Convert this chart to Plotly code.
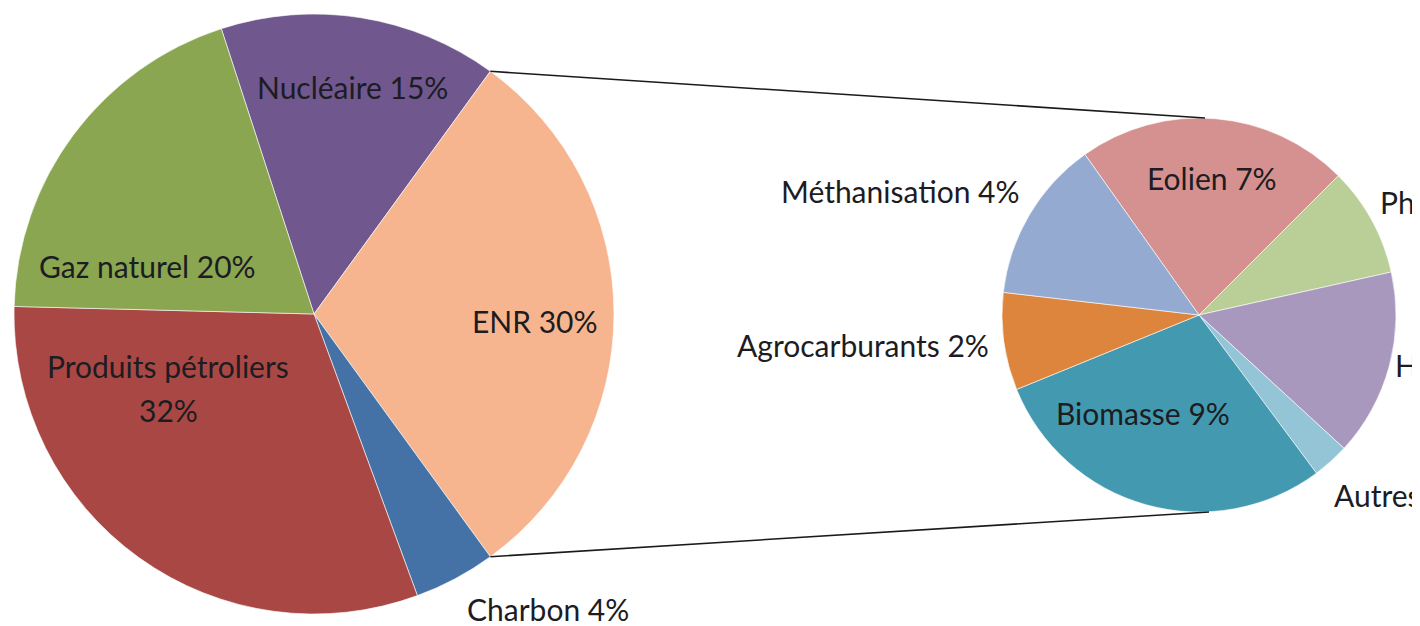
import math
import plotly.graph_objects as go

# the page body has an 8px margin, so the figure fills the visible window area
OFF = 8
W, H = 1420 - OFF, 626 - OFF

# ---- data ----
main_names = ["Nucléaire", "ENR", "Charbon", "Produits pétroliers", "Gaz naturel"]
main_values = [15.0, 30.0, 4.4, 31.0, 19.6]          # slice sizes (from angles)
main_pct = [15, 30, 4, 32, 20]                        # percentages printed on labels
main_colors = ["#70588F", "#F7B58F", "#4471A6", "#A94745", "#8AA651"]

sub_names = ["Eolien", "Photovoltaïque", "Hydraulique", "Autres",
             "Biomasse", "Agrocarburants", "Méthanisation"]
sub_values = [6.7, 2.7, 4.6, 0.9, 8.7, 2.4, 4.0]      # share of total (sum = ENR)
sub_pct = [7, 3, 5, 1, 9, 2, 4]
sub_colors = ["#D4918F", "#B9CF97", "#A898BE", "#93C5D7", "#4399AF", "#DE853D", "#94AAD0"]

# ---- layout geometry (window pixels) ----
main_c, main_r = (314, 314), 300
sub_c, sub_r = (1199, 315), 197
main_rot = -18.0
sub_rot = -35.4


def px(x, y):
    return (x - OFF) / W, 1 - (y - OFF) / H


def dom(c, r):
    x0, y1 = px(c[0] - r, c[1] - r)
    x1, y0 = px(c[0] + r, c[1] + r)
    return dict(x=[x0, x1], y=[y0, y1])


fig = go.Figure()
fig.add_trace(go.Pie(
    labels=main_names, values=main_values, sort=False, direction="clockwise",
    rotation=main_rot, marker=dict(colors=main_colors, line=dict(color="white", width=0.6)),
    textinfo="none", hoverinfo="label+percent", domain=dom(main_c, main_r), showlegend=False))
fig.add_trace(go.Pie(
    labels=sub_names, values=sub_values, sort=False, direction="clockwise",
    rotation=sub_rot, marker=dict(colors=sub_colors, line=dict(color="white", width=0.6)),
    textinfo="none", hoverinfo="label+value", domain=dom(sub_c, sub_r), showlegend=False))

# connector lines: from edges of the ENR slice to top / bottom of the secondary pie
tot = sum(main_values)
start = main_rot + 360 * main_values[0] / tot
end = start + 360 * main_values[1] / tot


def pt(c, r, ang):
    a = math.radians(ang)
    return c[0] + r * math.sin(a), c[1] - r * math.cos(a)


p1 = pt(main_c, main_r, start)
p2 = pt(main_c, main_r, end)
q1 = (sub_c[0] + 6, sub_c[1] - sub_r)
q2 = (sub_c[0] + 10, sub_c[1] + sub_r)
for a, b in [(p1, q1), (p2, q2)]:
    xa, ya = px(*a)
    xb, yb = px(*b)
    fig.add_shape(type="line", xref="paper", yref="paper",
                  x0=xa, y0=ya, x1=xb, y1=yb,
                  line=dict(color="#1a1a1a", width=1.6))

FONT = dict(family="Lato, 'Open Sans', sans-serif", size=30, color="#1c1c22")


def ann(text, x, y, xanchor="center"):
    xp, yp = px(x, y - 2)
    fig.add_annotation(text=text, x=xp, y=yp, xref="paper", yref="paper",
                       showarrow=False, xanchor=xanchor, yanchor="middle", font=FONT)


# label positions (x = centre or left edge, y = centre of capitals)
main_pos = [(352, 89, "center"), (535, 323, "center"), (548, 611, "center"),
            (168, 368, "center"), (147, 268, "center")]
for n, p, (x, y, xa) in zip(main_names, main_pct, main_pos):
    if n == "Produits pétroliers":
        ann(n, x, y, xa)
        ann(f"{p}%", x, y + 44, xa)
    else:
        ann(f"{n} {p}%", x, y, xa)

sub_pos = [(1212, 180, "center"), (1378, 204, "left"), (1393, 367, "left"),
           (1332, 497, "left"), (1143, 415, "center"), (863, 347, "center"),
           (900, 193, "center")]
for n, p, (x, y, xa) in zip(sub_names, sub_pct, sub_pos):
    ann(f"{n} {p}%", x, y, xa)

fig.update_layout(width=W, height=H, margin=dict(l=0, r=0, t=0, b=0),
                  paper_bgcolor="white", plot_bgcolor="white")
fig.write_html("out.html")
